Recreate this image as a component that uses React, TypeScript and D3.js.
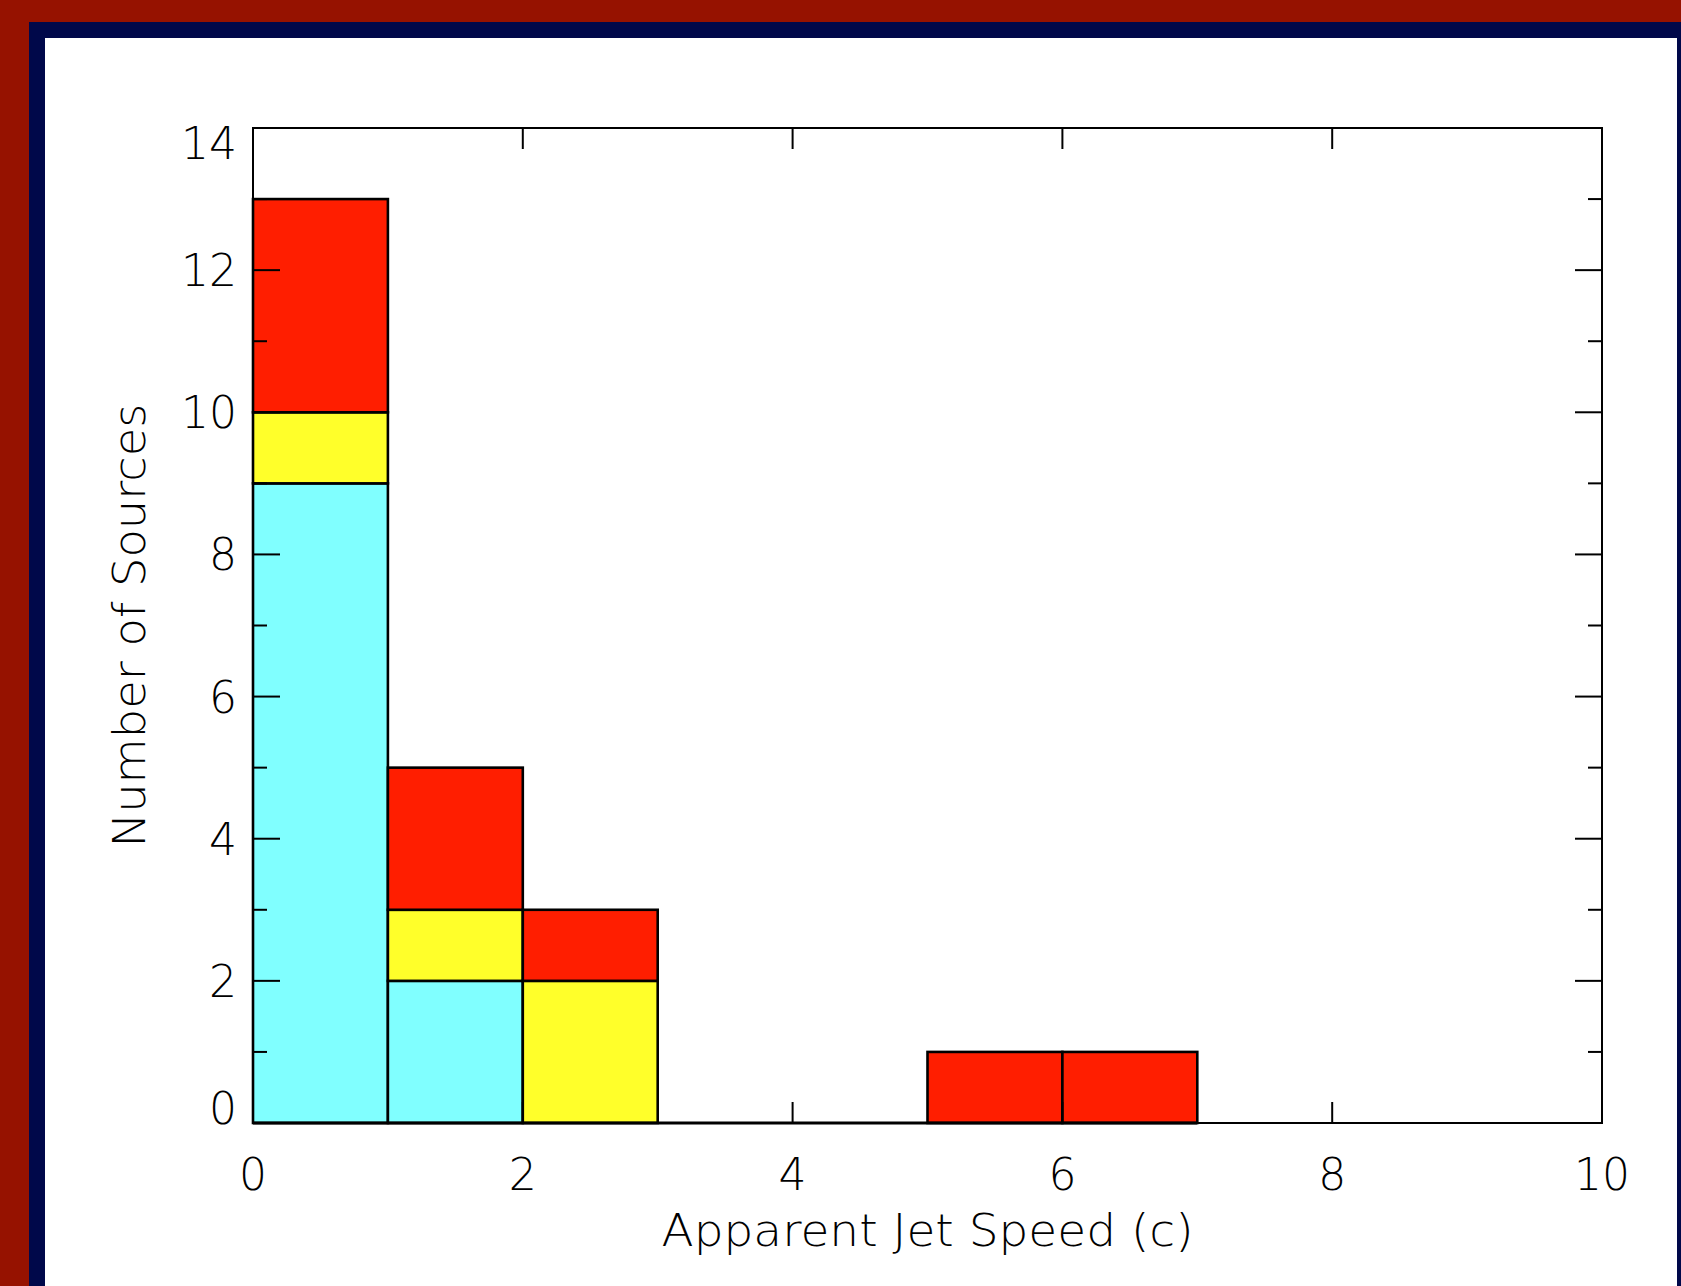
import React from "react";
import * as d3 from "d3";

// Stacked histogram of apparent jet speeds, one bin per unit of c
const binEdges = [0, 1, 2, 3, 4, 5, 6, 7, 8, 9, 10];
const cyanCounts = [9, 2, 0, 0, 0, 0, 0, 0, 0, 0];
const yellowCounts = [1, 1, 2, 0, 0, 0, 0, 0, 0, 0];
const redCounts = [3, 2, 1, 0, 0, 1, 1, 0, 0, 0];
const seriesColors = ["#80FFFF", "#FFFF2A", "#FF1E00"];
const xTickValues = [0, 2, 4, 6, 8, 10];
const yTickValues = [0, 2, 4, 6, 8, 10, 12, 14];
const yMinorValues = [1, 3, 5, 7, 9, 11, 13];
const xTitle = "Apparent Jet Speed (c)";
const yTitle = "Number of Sources";

const W = 1681;
const H = 1286;
const plot = { left: 253, right: 1602, top: 128, bottom: 1123 };
const FONT = "'DejaVu Sans', sans-serif";

export default function App() {
  const x = d3.scaleLinear().domain([0, 10]).range([plot.left, plot.right]);
  const y = d3.scaleLinear().domain([0, 14]).range([plot.bottom, plot.top]);

  const bins = binEdges.slice(0, -1).map((x0, i) => ({
    x0,
    x1: binEdges[i + 1],
    cyan: cyanCounts[i],
    yellow: yellowCounts[i],
    red: redCounts[i],
  }));
  const stacked = d3.stack<any>().keys(["cyan", "yellow", "red"])(bins);

  // outline of the filled range along the baseline
  const lastFilled = bins.reduce((m, b, i) => (b.cyan + b.yellow + b.red > 0 ? i : m), 0);
  const baseLine = d3.line<number>()
    .x((d) => x(d))
    .y(() => y(0))([binEdges[0], binEdges[lastFilled + 1]]);

  // end labels are pulled inside the axis range
  const labelCenter = (v: number) =>
    Math.min(Math.max(y(v), plot.top + 15), plot.bottom - 15);

  return (
    <svg
      width={W}
      height={H}
      style={{ position: "absolute", left: 0, top: 0, display: "block" }}
    >
      <rect x={0} y={0} width={W} height={H} fill="#961200" />
      <rect x={29} y={22} width={W - 29} height={H - 22} fill="#00084A" />
      <rect x={45} y={38} width={1677 - 45} height={H - 38} fill="#ffffff" />

      {stacked.map((layer, li) =>
        layer.map((d, i) =>
          d[1] - d[0] > 0 ? (
            <rect
              key={`${li}-${i}`}
              x={x(bins[i].x0)}
              y={y(d[1])}
              width={x(bins[i].x1) - x(bins[i].x0)}
              height={y(d[0]) - y(d[1])}
              fill={seriesColors[li]}
              stroke="#000"
              strokeWidth={2.6}
            />
          ) : null
        )
      )}
      <path d={baseLine || ""} stroke="#000" strokeWidth={2.8} fill="none" />

      {/* axes box */}
      <rect
        x={plot.left}
        y={plot.top}
        width={plot.right - plot.left}
        height={plot.bottom - plot.top}
        fill="none"
        stroke="#000"
        strokeWidth={2}
      />

      {/* x ticks, top and bottom */}
      {xTickValues.slice(1, -1).map((v) => (
        <g key={`xt${v}`} stroke="#000" strokeWidth={2}>
          <line x1={x(v)} x2={x(v)} y1={plot.bottom} y2={plot.bottom - 21} />
          <line x1={x(v)} x2={x(v)} y1={plot.top} y2={plot.top + 21} />
        </g>
      ))}
      {/* y ticks, left and right */}
      {yTickValues.slice(1, -1).map((v) => (
        <g key={`yt${v}`} stroke="#000" strokeWidth={2}>
          <line x1={plot.left} x2={plot.left + 27} y1={y(v)} y2={y(v)} />
          <line x1={plot.right} x2={plot.right - 27} y1={y(v)} y2={y(v)} />
        </g>
      ))}
      {yMinorValues.map((v) => (
        <g key={`ym${v}`} stroke="#000" strokeWidth={2}>
          <line x1={plot.left} x2={plot.left + 14} y1={y(v)} y2={y(v)} />
          <line x1={plot.right} x2={plot.right - 14} y1={y(v)} y2={y(v)} />
        </g>
      ))}

      {/* tick labels */}
      {xTickValues.map((v) => (
        <text
          key={`xl${v}`}
          x={x(v)}
          y={1190}
          textAnchor="middle"
          fontFamily={FONT}
          fontWeight={200}
          fontSize={44}
          fill="#000"
        >
          {v}
        </text>
      ))}
      {yTickValues.map((v) => (
        <text
          key={`yl${v}`}
          x={237}
          y={labelCenter(v) + 16}
          textAnchor="end"
          fontFamily={FONT}
          fontWeight={200}
          fontSize={44}
          fill="#000"
        >
          {v}
        </text>
      ))}

      {/* axis titles */}
      <text
        x={(plot.left + plot.right) / 2}
        y={1246}
        textAnchor="middle"
        fontFamily={FONT}
        fontWeight={200}
        fontSize={44}
        textLength={532}
        lengthAdjust="spacingAndGlyphs"
        fill="#000"
      >
        {xTitle}
      </text>
      <text
        transform={`translate(145, ${(plot.top + plot.bottom) / 2}) rotate(-90)`}
        textAnchor="middle"
        fontFamily={FONT}
        fontWeight={200}
        fontSize={44}
        textLength={444}
        lengthAdjust="spacingAndGlyphs"
        fill="#000"
      >
        {yTitle}
      </text>
    </svg>
  );
}
